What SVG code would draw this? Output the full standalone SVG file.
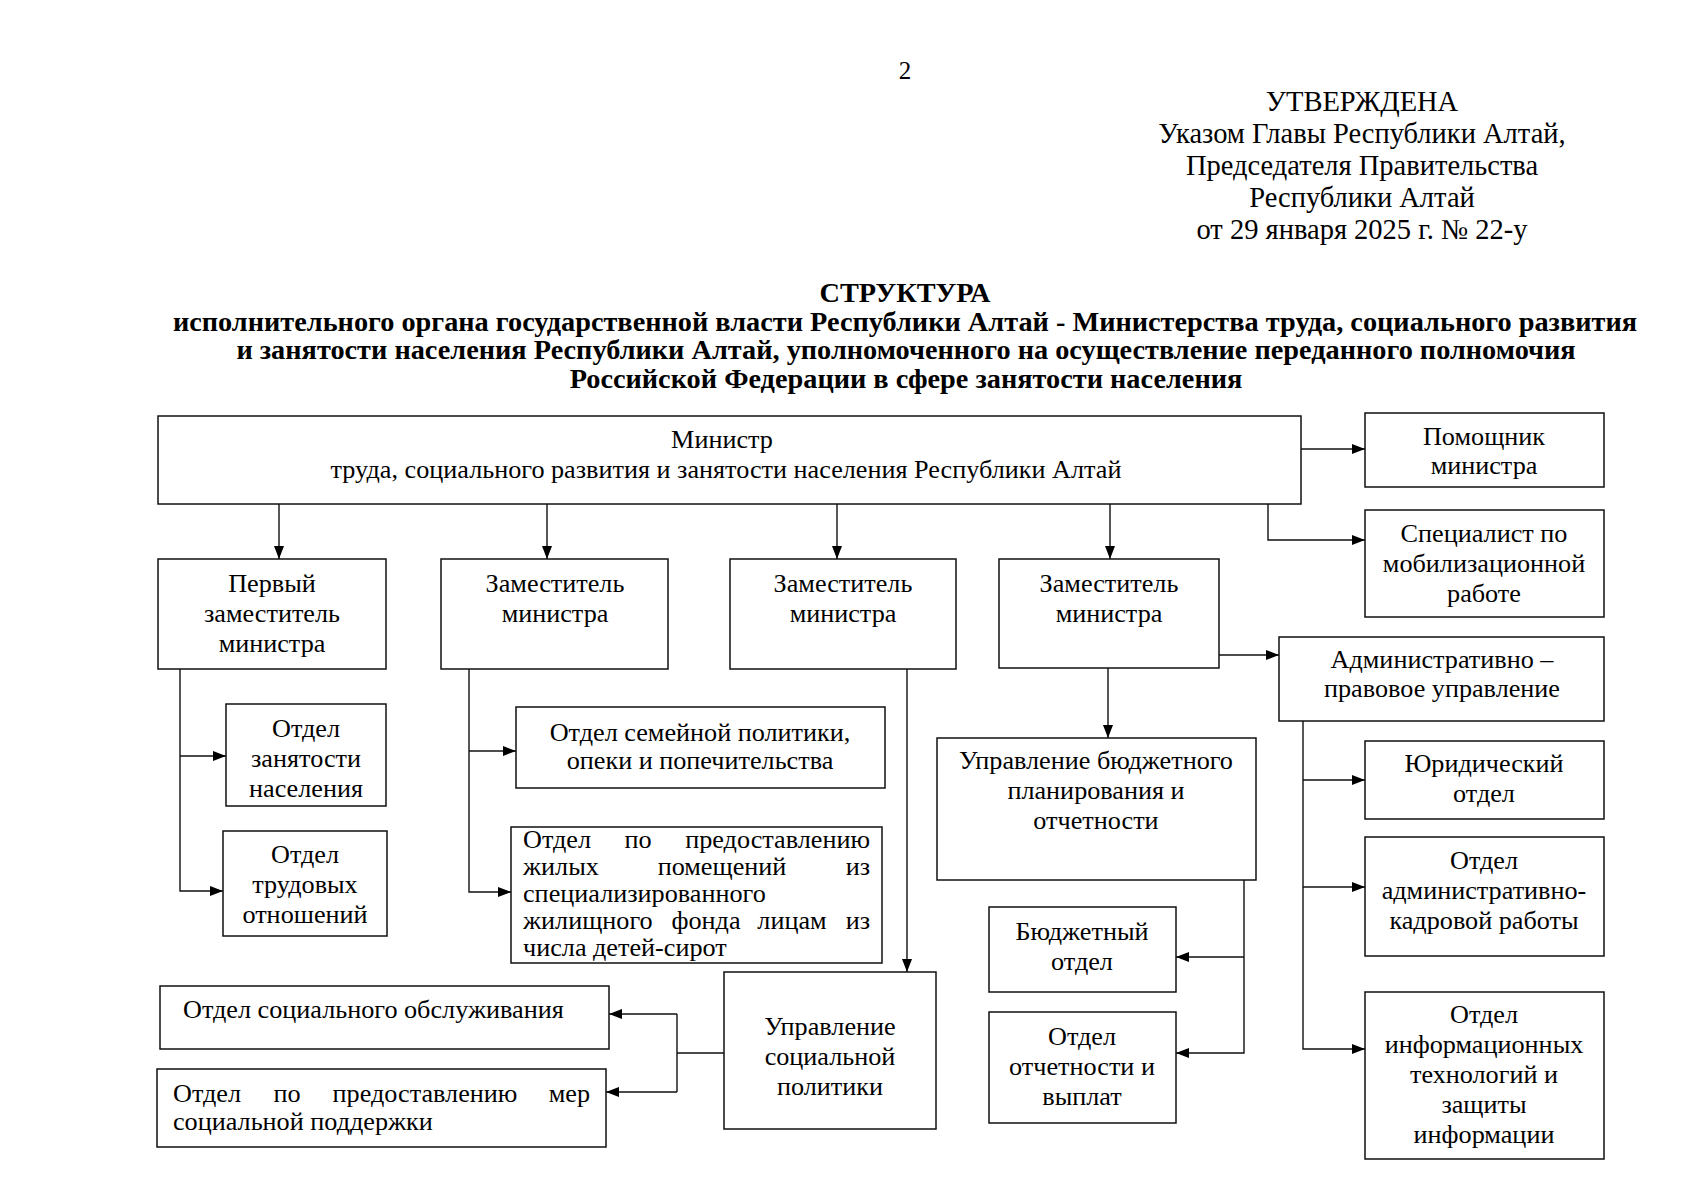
<svg xmlns="http://www.w3.org/2000/svg" width="1698" height="1200" viewBox="0 0 1698 1200">
<style>
text{font-family:"Liberation Serif","Times New Roman",serif;fill:#000}
.t{font-size:26.2px}
.n{font-size:25px}
.c{text-anchor:middle}
.e{text-anchor:end}
.h{font-size:28.5px}
.b{font-size:28.3px;font-weight:bold;text-anchor:middle}
.box{fill:#fff;stroke:#111;stroke-width:1.5}
#connectors path{fill:none;stroke:#111;stroke-width:1.4}
</style>
<defs>
<marker id="ah" markerWidth="13" markerHeight="10" refX="13" refY="5" orient="auto" markerUnits="userSpaceOnUse"><path d="M0,0 L13,5 L0,10 z" fill="#000"/></marker>
</defs>
<rect width="1698" height="1200" fill="#fff"/>
<g id="header">
<text class="n c" x="905" y="79">2</text>
<text class="h c" x="1362" y="111">УТВЕРЖДЕНА</text>
<text class="h c" x="1362" y="143">Указом Главы Республики Алтай,</text>
<text class="h c" x="1362" y="175">Председателя Правительства</text>
<text class="h c" x="1362" y="207">Республики Алтай</text>
<text class="h c" x="1362" y="239">от 29 января 2025 г. № 22-у</text>
<text class="b" x="905" y="302">СТРУКТУРА</text>
<text class="b" x="905" y="331">исполнительного органа государственной власти Республики Алтай - Министерства труда, социального развития</text>
<text class="b" x="906" y="359">и занятости населения Республики Алтай, уполномоченного на осуществление переданного полномочия</text>
<text class="b" x="906" y="388">Российской Федерации в сфере занятости населения</text>
</g>
<g id="connectors">
<path d="M279,504 V559" marker-end="url(#ah)"/>
<path d="M547,504 V559" marker-end="url(#ah)"/>
<path d="M837,504 V559" marker-end="url(#ah)"/>
<path d="M1110,504 V559" marker-end="url(#ah)"/>
<path d="M1301,449 H1365" marker-end="url(#ah)"/>
<path d="M1268,504 V540 H1365" marker-end="url(#ah)"/>
<path d="M180,669 V891 H223" marker-end="url(#ah)"/>
<path d="M180,756 H226" marker-end="url(#ah)"/>
<path d="M469,669 V892 H511" marker-end="url(#ah)"/>
<path d="M469,751 H516" marker-end="url(#ah)"/>
<path d="M907,669 V972" marker-end="url(#ah)"/>
<path d="M1108,668 V738" marker-end="url(#ah)"/>
<path d="M1219,655 H1279" marker-end="url(#ah)"/>
<path d="M1303,721 V1049 H1365" marker-end="url(#ah)"/>
<path d="M1303,780 H1365" marker-end="url(#ah)"/>
<path d="M1303,887 H1365" marker-end="url(#ah)"/>
<path d="M1244,880 V1053 H1176" marker-end="url(#ah)"/>
<path d="M1244,957 H1176" marker-end="url(#ah)"/>
<path d="M724,1053 H677"/>
<path d="M677,1014 V1092"/>
<path d="M677,1014 H609" marker-end="url(#ah)"/>
<path d="M677,1092 H606" marker-end="url(#ah)"/>
</g>
<g id="minister">
<rect class="box" x="158" y="416" width="1143" height="88"/>
<text class="t c" x="722" y="448">Министр</text>
<text class="t c" x="726" y="478">труда, социального развития и занятости населения Республики Алтай</text>
</g>
<g id="pomoshnik">
<rect class="box" x="1365" y="413" width="239" height="74"/>
<text class="t c" x="1484" y="445">Помощник</text>
<text class="t c" x="1484" y="474">министра</text>
</g>
<g id="specialist">
<rect class="box" x="1365" y="510" width="239" height="107"/>
<text class="t c" x="1484" y="542">Специалист по</text>
<text class="t c" x="1484" y="572">мобилизационной</text>
<text class="t c" x="1484" y="602">работе</text>
</g>
<g id="first-deputy">
<rect class="box" x="158" y="559" width="228" height="110"/>
<text class="t c" x="272" y="592">Первый</text>
<text class="t c" x="272" y="622">заместитель</text>
<text class="t c" x="272" y="652">министра</text>
</g>
<g id="deputy-a">
<rect class="box" x="441" y="559" width="227" height="110"/>
<text class="t c" x="555" y="592">Заместитель</text>
<text class="t c" x="555" y="622">министра</text>
</g>
<g id="deputy-b">
<rect class="box" x="730" y="559" width="226" height="110"/>
<text class="t c" x="843" y="592">Заместитель</text>
<text class="t c" x="843" y="622">министра</text>
</g>
<g id="deputy-c">
<rect class="box" x="999" y="559" width="220" height="109"/>
<text class="t c" x="1109" y="592">Заместитель</text>
<text class="t c" x="1109" y="622">министра</text>
</g>
<g id="admin-pravovoe">
<rect class="box" x="1279" y="637" width="325" height="84"/>
<text class="t c" x="1442" y="668">Административно –</text>
<text class="t c" x="1442" y="697">правовое управление</text>
</g>
<g id="otdel-zanyatosti">
<rect class="box" x="226" y="704" width="160" height="102"/>
<text class="t c" x="306" y="737">Отдел</text>
<text class="t c" x="306" y="767">занятости</text>
<text class="t c" x="306" y="797">населения</text>
</g>
<g id="otdel-trudovyh">
<rect class="box" x="223" y="831" width="164" height="105"/>
<text class="t c" x="305" y="863">Отдел</text>
<text class="t c" x="305" y="893">трудовых</text>
<text class="t c" x="305" y="923">отношений</text>
</g>
<g id="otdel-semeinoi">
<rect class="box" x="516" y="707" width="369" height="81"/>
<text class="t c" x="700" y="741">Отдел семейной политики,</text>
<text class="t c" x="700" y="769">опеки и попечительства</text>
</g>
<g id="otdel-zhilyh">
<rect class="box" x="511" y="827" width="371" height="136"/>
<text class="t" x="523" y="848">Отдел</text>
<text class="t c" x="638" y="848">по</text>
<text class="t e" x="870" y="848">предоставлению</text>
<text class="t" x="523" y="875">жилых</text>
<text class="t c" x="722" y="875">помещений</text>
<text class="t e" x="870" y="875">из</text>
<text class="t" x="523" y="902">специализированного</text>
<text class="t" x="523" y="929">жилищного</text>
<text class="t c" x="706" y="929">фонда</text>
<text class="t c" x="792" y="929">лицам</text>
<text class="t e" x="870" y="929">из</text>
<text class="t" x="523" y="956">числа детей-сирот</text>
</g>
<g id="upr-byudzhet">
<rect class="box" x="937" y="738" width="319" height="142"/>
<text class="t c" x="1096" y="769">Управление бюджетного</text>
<text class="t c" x="1096" y="799">планирования и</text>
<text class="t c" x="1096" y="829">отчетности</text>
</g>
<g id="byudzhetny-otdel">
<rect class="box" x="989" y="907" width="187" height="85"/>
<text class="t c" x="1082" y="940">Бюджетный</text>
<text class="t c" x="1082" y="970">отдел</text>
</g>
<g id="otdel-otchetnosti">
<rect class="box" x="989" y="1012" width="187" height="111"/>
<text class="t c" x="1082" y="1045">Отдел</text>
<text class="t c" x="1082" y="1075">отчетности и</text>
<text class="t c" x="1082" y="1105">выплат</text>
</g>
<g id="upr-social">
<rect class="box" x="724" y="972" width="212" height="157"/>
<text class="t c" x="830" y="1035">Управление</text>
<text class="t c" x="830" y="1065">социальной</text>
<text class="t c" x="830" y="1095">политики</text>
</g>
<g id="otdel-obsluzh">
<rect class="box" x="160" y="986" width="449" height="63"/>
<text class="t" x="183" y="1018">Отдел социального обслуживания</text>
</g>
<g id="otdel-mer">
<rect class="box" x="157" y="1069" width="449" height="78"/>
<text class="t" x="173" y="1102">Отдел</text>
<text class="t c" x="287" y="1102">по</text>
<text class="t c" x="425" y="1102">предоставлению</text>
<text class="t e" x="590" y="1102">мер</text>
<text class="t" x="173" y="1130">социальной поддержки</text>
</g>
<g id="yuridichesky">
<rect class="box" x="1365" y="741" width="239" height="78"/>
<text class="t c" x="1484" y="772">Юридический</text>
<text class="t c" x="1484" y="802">отдел</text>
</g>
<g id="otdel-kadrov">
<rect class="box" x="1365" y="837" width="239" height="119"/>
<text class="t c" x="1484" y="869">Отдел</text>
<text class="t c" x="1484" y="899">административно-</text>
<text class="t c" x="1484" y="929">кадровой работы</text>
</g>
<g id="otdel-it">
<rect class="box" x="1365" y="992" width="239" height="167"/>
<text class="t c" x="1484" y="1023">Отдел</text>
<text class="t c" x="1484" y="1053">информационных</text>
<text class="t c" x="1484" y="1083">технологий и</text>
<text class="t c" x="1484" y="1113">защиты</text>
<text class="t c" x="1484" y="1143">информации</text>
</g>
</svg>
